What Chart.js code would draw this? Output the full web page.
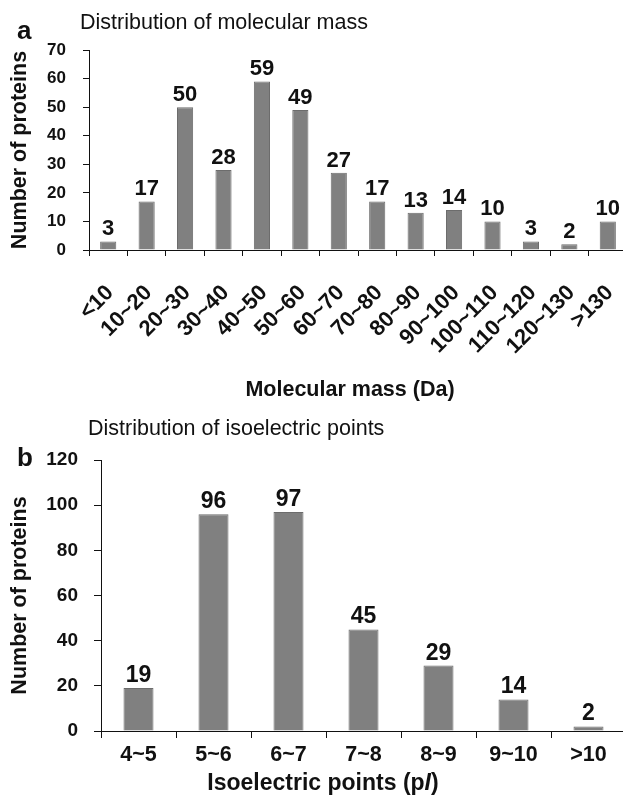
<!DOCTYPE html>
<html>
<head>
<meta charset="utf-8">
<script src="https://cdn.jsdelivr.net/npm/chart.js@4.4.1/dist/chart.umd.min.js"></script>
<style>
    html, body { margin: 0; padding: 0; background: #fff; width: 623px; height: 803px; overflow: hidden; }
    body { position: relative; font-family: "Liberation Sans", Arial, sans-serif; color: #111; }
    .caja { position: absolute; left: 0; }
    .texto { position: absolute; white-space: nowrap; line-height: 1; }
    .letra { font-weight: bold; font-size: 26px; }
    .titulo { font-size: 21.5px; }
    .tituloEje { left: 0; text-align: center; font-weight: bold; }
</style>
</head>
<body>
<div class="caja" style="top:0"><canvas id="graficaMasa" width="630" height="410"></canvas></div>
<div class="caja" style="top:410px"><canvas id="graficaPI" width="630" height="393"></canvas></div>

<div class="texto letra" style="left:17px; top:17px">a</div>
<div class="texto titulo" style="left:80px; top:12px">Distribution of molecular mass</div>
<div class="texto tituloEje" style="width:700px; top:379px; font-size:21.5px">Molecular mass (Da)</div>

<div class="texto letra" style="left:17px; top:444px">b</div>
<div class="texto titulo" style="left:88px; top:418px">Distribution of isoelectric points</div>
<div class="texto tituloEje" style="width:646px; top:771px; font-size:23px">Isoelectric points (p<i>I</i>)</div>

<script>
// Datos: masa molecular
const categoriasMasa = ["<10", "10~20", "20~30", "30~40", "40~50", "50~60", "60~70", "70~80", "80~90", "90~100", "100~110", "110~120", "120~130", ">130"];
const valoresMasa = [3, 17, 50, 28, 59, 49, 27, 17, 13, 14, 10, 3, 2, 10];
const maxMasa = 70;
const pasoMasa = 10;

// Datos: punto isoeléctrico
const categoriasPI = ["4~5", "5~6", "6~7", "7~8", "8~9", "9~10", ">10"];
const valoresPI = [19, 96, 97, 45, 29, 14, 2];
const maxPI = 120;
const pasoPI = 20;

const fuente = '"Liberation Sans", Arial, sans-serif';
const negro = '#111';
const grisBarra = '#808080';

// Plugin para escribir el valor encima de cada barra
const etiquetasValor = {
    id: 'etiquetasValor',
    afterDatasetsDraw(chart, args, opts) {
        const ctx = chart.ctx;
        const meta = chart.getDatasetMeta(0);
        const datos = chart.data.datasets[0].data;
        ctx.save();
        ctx.font = `bold ${opts.size}px ${fuente}`;
        ctx.fillStyle = negro;
        ctx.textAlign = 'center';
        ctx.textBaseline = 'alphabetic';
        meta.data.forEach((barra, i) => {
            ctx.fillText(String(datos[i]), barra.x, barra.y - opts.gap);
        });
        ctx.restore();
    }
};

// Eje X (categorías)
function ejeX(tamTicks, rotacion, padTicks, desplazamiento, largoTick, alto) {
    return {
        offset: true,
        grid: { drawOnChartArea: false, drawTicks: true, tickLength: largoTick, color: negro, offset: true },
        border: { display: true, color: negro, width: 1 },
        ticks: {
            color: negro,
            font: { family: fuente, size: tamTicks, weight: 'bold' },
            minRotation: rotacion,
            maxRotation: rotacion,
            autoSkip: false,
            padding: padTicks,
            labelOffset: desplazamiento
        },
        afterFit: escala => {
            // alto fijo y sin márgenes extra por las etiquetas giradas
            escala.height = alto;
            escala.paddingLeft = 0;
            escala.paddingRight = 0;
        }
    };
}

// Eje Y (número de proteínas)
function ejeY(max, paso, tamTicks, ancho, largoTick, padTicks) {
    return {
        min: 0,
        max: max,
        grid: { drawOnChartArea: false, drawTicks: true, tickLength: largoTick, color: negro },
        border: { display: true, color: negro, width: 1 },
        ticks: {
            stepSize: paso,
            color: negro,
            font: { family: fuente, size: tamTicks, weight: 'bold' },
            padding: padTicks
        },
        title: {
            display: true,
            text: 'Number of proteins',
            color: negro,
            font: { family: fuente, size: 21.5, weight: 'bold' },
            padding: { top: 7, bottom: 0 }
        },
        afterFit: escala => { escala.width = ancho; }
    };
}

function crearGrafica(canvas, categorias, valores, extra) {
    return new Chart(canvas, {
        type: 'bar',
        data: {
            labels: categorias,
            datasets: [{
                data: valores,
                backgroundColor: grisBarra,
                borderColor: '#6c6c6c',
                borderWidth: 1,
                barPercentage: extra.barra,
                categoryPercentage: 1
            }]
        },
        options: {
            responsive: false,
            animation: false,
            layout: { padding: extra.padding },
            plugins: {
                legend: { display: false },
                tooltip: { enabled: false },
                etiquetasValor: extra.etiquetas
            },
            scales: {
                x: extra.x,
                y: extra.y
            }
        },
        plugins: [etiquetasValor]
    });
}

// Gráfica a: masa molecular
crearGrafica(document.getElementById('graficaMasa'), categoriasMasa, valoresMasa, {
    barra: 0.42,
    padding: { left: 0, right: 3, top: 50, bottom: 0 },
    etiquetas: { size: 22, gap: 6 },
    x: ejeX(22, 45, 24, 2, 6, 160),
    y: ejeY(maxMasa, pasoMasa, 17, 89, 6, 17)
});

// Gráfica b: punto isoeléctrico
crearGrafica(document.getElementById('graficaPI'), categoriasPI, valoresPI, {
    barra: 0.4,
    padding: { left: 0, right: 4, top: 50, bottom: 0 },
    etiquetas: { size: 23, gap: 6 },
    x: ejeX(21.5, 0, 4, 0, 7, 72),
    y: ejeY(maxPI, pasoPI, 19, 101, 7, 16)
});
</script>
</body>
</html>
